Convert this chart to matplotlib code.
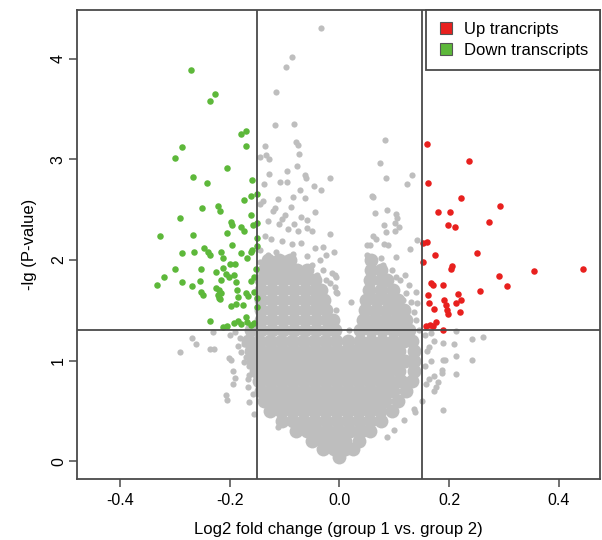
import matplotlib
matplotlib.use('Agg')
import matplotlib.pyplot as plt
from matplotlib.lines import Line2D

# 颜色
GREY = '#BEBEBE'
RED = '#E8201E'
GREEN = '#5DB83A'
LINE = '#4A4A4A'

# 上调 (红)
up_x = [0.159, 0.236, 0.162, 0.221, 0.293, 0.179, 0.201, 0.273, 0.197, 0.211,
        0.153, 0.159, 0.251, 0.174, 0.153, 0.205, 0.204, 0.355, 0.443, 0.290,
        0.305, 0.167, 0.171, 0.189, 0.256, 0.216, 0.162, 0.221, 0.212, 0.164,
        0.190, 0.194, 0.172, 0.196, 0.198, 0.219, 0.158, 0.165, 0.175, 0.171,
        0.188]
up_y = [3.15, 2.98, 2.76, 2.62, 2.54, 2.48, 2.48, 2.38, 2.35, 2.33,
        2.17, 2.18, 2.07, 2.05, 1.98, 1.94, 1.91, 1.89, 1.91, 1.84,
        1.74, 1.77, 1.75, 1.75, 1.69, 1.66, 1.65, 1.60, 1.57, 1.57,
        1.60, 1.55, 1.51, 1.50, 1.46, 1.48, 1.34, 1.35, 1.38, 1.34,
        1.30]

# 下调 (绿)
down_x = [-0.271, -0.227, -0.236, -0.179, -0.170, -0.170, -0.286, -0.300, -0.204, -0.266,
          -0.241, -0.160, -0.161, -0.151, -0.173, -0.250, -0.221, -0.218, -0.290, -0.162,
          -0.197, -0.195, -0.179, -0.174, -0.158, -0.150, -0.326, -0.266, -0.204, -0.151,
          -0.196, -0.151, -0.247, -0.240, -0.235, -0.287, -0.265, -0.215, -0.179, -0.162,
          -0.159, -0.212, -0.169, -0.299, -0.253, -0.213, -0.199, -0.191, -0.152, -0.319,
          -0.333, -0.287, -0.268, -0.254, -0.225, -0.216, -0.206, -0.201, -0.193, -0.189,
          -0.162, -0.155, -0.253, -0.249, -0.224, -0.219, -0.222, -0.215, -0.187, -0.184,
          -0.171, -0.167, -0.156, -0.151, -0.198, -0.189, -0.175, -0.151, -0.236, -0.212,
          -0.205, -0.193, -0.185, -0.179, -0.170, -0.168, -0.161, -0.155, -0.218, -0.220]
down_y = [3.89, 3.65, 3.58, 3.25, 3.28, 3.13, 3.12, 3.01, 2.91, 2.82,
          2.76, 2.79, 2.64, 2.66, 2.60, 2.52, 2.54, 2.49, 2.42, 2.45,
          2.38, 2.35, 2.33, 2.29, 2.35, 2.37, 2.24, 2.25, 2.27, 2.22,
          2.15, 2.14, 2.12, 2.08, 2.05, 2.07, 2.08, 2.08, 2.07, 2.08,
          2.10, 2.02, 2.02, 1.91, 1.91, 1.92, 1.96, 1.96, 1.91, 1.83,
          1.75, 1.78, 1.74, 1.79, 1.88, 1.80, 1.86, 1.83, 1.85, 1.78,
          1.79, 1.83, 1.68, 1.65, 1.72, 1.70, 1.65, 1.67, 1.70, 1.63,
          1.67, 1.64, 1.68, 1.62, 1.54, 1.56, 1.55, 1.53, 1.39, 1.33,
          1.34, 1.37, 1.39, 1.36, 1.43, 1.38, 1.35, 1.37, 1.61, 1.62]

# 非显著 (灰) - 稀疏点
grey_x = [-0.033, -0.086, -0.098, -0.115, -0.118, -0.082, 0.083, -0.136, -0.079, -0.075,
          -0.073, -0.145, -0.133, -0.128, -0.077, 0.073, -0.129, -0.096, -0.063, -0.061,
          -0.018, 0.085, 0.133, 0.123, -0.137, -0.109, -0.095, -0.047, -0.072, -0.033,
          -0.084, -0.062, 0.062, -0.145, -0.139, -0.112,
          -0.118, -0.121, -0.088, -0.044, -0.070, -0.060, -0.104, -0.100, -0.130, -0.110,
          -0.094, -0.082, -0.076, -0.060, -0.050, -0.018, -0.136, -0.124, -0.104, -0.087,
          -0.070, -0.045, -0.030, -0.010, -0.024, -0.036, -0.013, -0.006, -0.004, -0.009,
          -0.018, -0.145, -0.130, -0.115, -0.100, -0.085, -0.060, -0.145, -0.050, -0.030,
          -0.040, -0.025,
          0.064, 0.087, 0.103, 0.081, 0.102, 0.108, 0.062, 0.066, 0.084, 0.102,
          0.051, 0.056, 0.082, 0.089, 0.141, 0.129, 0.103, 0.103, 0.127, 0.121,
          0.139, 0.130, 0.142, 0.136, 0.121, 0.021, -0.009, -0.006, -0.006, 0.018,
          0.060, 0.105, 0.050, 0.055, 0.075, 0.080, 0.095, 0.110, 0.120, 0.115,
          0.140, 0.145, 0.020, 0.010,
          -0.268, -0.261, -0.291, -0.236, -0.229, -0.230, -0.201, -0.197, -0.194, -0.191,
          -0.194, -0.206, -0.204, -0.164, -0.155, -0.165, -0.167, -0.182, -0.173, -0.179,
          -0.170, -0.164, -0.173, -0.158, -0.161, -0.167, -0.158, -0.155, -0.112, -0.190,
          -0.200, -0.185,
          0.212, 0.242, 0.261, 0.209, 0.188, 0.173, 0.212, 0.242, 0.189, 0.193,
          0.187, 0.186, 0.212, 0.173, 0.179, 0.176, 0.173, 0.164, 0.158, 0.188,
          0.135, 0.138, 0.167, 0.164, 0.167, 0.118, 0.100, 0.087, 0.155, 0.160,
          0.155, 0.150]
grey_y = [4.30, 4.02, 3.92, 3.67, 3.34, 3.35, 3.19, 3.13, 3.17, 3.14,
          3.05, 3.02, 3.04, 3.00, 2.93, 2.96, 2.85, 2.88, 2.84, 2.81,
          2.81, 2.81, 2.84, 2.75, 2.75, 2.77, 2.77, 2.73, 2.69, 2.69,
          2.63, 2.62, 2.63, 2.56, 2.59, 2.61,
          2.52, 2.49, 2.53, 2.48, 2.43, 2.40, 2.41, 2.45, 2.39, 2.36,
          2.31, 2.36, 2.29, 2.32, 2.29, 2.26, 2.24, 2.21, 2.19, 2.16,
          2.17, 2.12, 2.13, 2.08, 2.05, 2.00, 1.87, 1.83, 1.67, 1.73,
          1.77, 2.10, 2.05, 2.08, 2.02, 2.06, 2.04, 1.98, 1.95, 1.90,
          1.85, 1.80,
          2.47, 2.50, 2.46, 2.35, 2.37, 2.33, 2.24, 2.21, 2.28, 2.29,
          2.15, 2.15, 2.16, 2.15, 2.20, 2.11, 2.03, 1.83, 1.75, 1.67,
          1.68, 1.58, 1.57, 1.48, 1.48, 1.58, 1.85, 1.68, 1.50, 1.30,
          2.64, 2.42, 2.05, 2.00, 2.02, 1.95, 1.90, 1.80, 1.85, 1.60,
          1.40, 1.30, 1.20, 1.10,
          1.23, 1.17, 1.09, 1.12, 1.12, 1.28, 1.03, 1.01, 0.90, 0.83,
          0.77, 0.66, 0.61, 0.59, 0.47, 0.86, 0.82, 1.23, 1.17, 1.09,
          1.04, 0.95, 0.99, 1.20, 1.07, 0.74, 0.67, 0.87, 0.34, 1.28,
          1.25, 1.15,
          1.29, 1.22, 1.24, 1.17, 1.18, 1.20, 1.05, 1.01, 1.01, 1.01,
          0.91, 0.88, 0.87, 0.85, 0.79, 0.74, 0.70, 0.82, 0.77, 0.51,
          0.52, 0.49, 1.27, 1.14, 1.00, 0.41, 0.31, 0.24, 1.25, 1.10,
          0.95, 0.60]

# 灰色密集区 (逐行读取: 行高 y, 该行各点 x)
core_rows_y = [0.04, 0.12, 0.2, 0.3, 0.4, 0.5, 0.6, 0.7, 0.8, 0.9,
               1.0, 1.1, 1.2, 1.3, 1.4, 1.5, 1.6, 1.7, 1.8, 1.9, 2.0]
core_rows_x = [
    [0.0],
    [-0.03, -0.01, 0.01, 0.025],
    [-0.05, -0.03, -0.01, 0.01, 0.035],
    [-0.08, -0.06, -0.04, -0.02, 0.0, 0.02, 0.04, 0.055],
    [-0.105, -0.085, -0.065, -0.045, -0.025, -0.005, 0.015, 0.035, 0.055, 0.075],
    [-0.127, -0.107, -0.087, -0.067, -0.047, -0.027, -0.007, 0.013, 0.033, 0.053, 0.073, 0.095],
    [-0.137, -0.117, -0.097, -0.077, -0.057, -0.037, -0.017, 0.003, 0.023, 0.043, 0.063, 0.083, 0.107],
    [-0.142, -0.122, -0.102, -0.082, -0.062, -0.042, -0.022, -0.002, 0.018, 0.038, 0.058, 0.078, 0.098, 0.122],
    [-0.147, -0.127, -0.107, -0.087, -0.067, -0.047, -0.027, -0.007, 0.013, 0.033, 0.053, 0.073, 0.093, 0.113, 0.132],
    [-0.152, -0.132, -0.112, -0.092, -0.072, -0.052, -0.032, -0.012, 0.008, 0.028, 0.048, 0.068, 0.088, 0.108, 0.135],
    [-0.157, -0.137, -0.117, -0.097, -0.077, -0.057, -0.037, -0.017, 0.003, 0.023, 0.043, 0.063, 0.083, 0.103, 0.12, 0.135],
    [-0.162, -0.142, -0.122, -0.102, -0.082, -0.062, -0.042, -0.022, -0.002, 0.013, 0.028, 0.048, 0.068, 0.088, 0.108, 0.135],
    [-0.167, -0.147, -0.127, -0.107, -0.087, -0.067, -0.047, -0.027, -0.007, 0.015, 0.038, 0.058, 0.078, 0.098, 0.118, 0.132],
    [-0.162, -0.142, -0.122, -0.102, -0.082, -0.062, -0.042, -0.022, -0.008, 0.037, 0.057, 0.077, 0.097, 0.113, 0.127],
    [-0.142, -0.122, -0.102, -0.082, -0.062, -0.042, -0.022, -0.012, 0.043, 0.063, 0.083, 0.103, 0.122],
    [-0.142, -0.122, -0.102, -0.082, -0.062, -0.042, -0.025, 0.046, 0.066, 0.086, 0.104, 0.117],
    [-0.142, -0.122, -0.102, -0.082, -0.062, -0.045, -0.028, 0.049, 0.069, 0.089, 0.107],
    [-0.142, -0.122, -0.102, -0.082, -0.062, -0.045, -0.033, 0.053, 0.075, 0.097],
    [-0.142, -0.122, -0.102, -0.082, -0.062, -0.045, 0.055, 0.075, 0.087],
    [-0.137, -0.117, -0.097, -0.077, -0.060, 0.058, 0.075],
    [-0.130, -0.110, -0.090, 0.058],
]

x_ticks = [-0.4, -0.2, 0.0, 0.2, 0.4]
y_ticks = [0, 1, 2, 3, 4]
fc_cut = 0.15
p_cut = 1.301  # -lg(0.05)

plt.rcParams['font.family'] = ['Liberation Sans', 'DejaVu Sans']

fig = plt.figure(figsize=(6.02, 5.4), dpi=100)
ax = fig.add_axes([0.128, 0.113, 0.869, 0.868])

core_x, core_y = [], []
for yy, xs in zip(core_rows_y, core_rows_x):
    core_x += xs
    core_y += [yy] * len(xs)

ax.scatter(core_x, core_y, s=100, c=GREY, linewidths=0, zorder=1)
ax.scatter(grey_x, grey_y, s=20, c=GREY, linewidths=0, zorder=1)
ax.scatter(down_x, down_y, s=22, c=GREEN, linewidths=0, zorder=2)
ax.scatter(up_x, up_y, s=22, c=RED, linewidths=0, zorder=2)

ax.axvline(-fc_cut, color=LINE, lw=1.3, zorder=3)
ax.axvline(fc_cut, color=LINE, lw=1.3, zorder=3)
ax.axhline(p_cut, color=LINE, lw=1.3, zorder=3)

ax.set_xlim(-0.478, 0.475)
ax.set_ylim(-0.175, 4.48)
ax.set_xticks(x_ticks)
ax.set_xticklabels(['-0.4', '-0.2', '0.0', '0.2', '0.4'], fontsize=11.5)
ax.set_yticks(y_ticks)
ax.set_yticklabels([str(v) for v in y_ticks], fontsize=11.5, rotation=90, va='center')
ax.tick_params(direction='out', length=6, width=1.1, color=LINE)
ax.tick_params(axis='y', pad=2)
ax.tick_params(axis='x', pad=4)
for sp in ax.spines.values():
    sp.set_color(LINE)
    sp.set_linewidth(1.3)

ax.set_xlabel('Log2 fold change (group 1 vs. group 2)', fontsize=12, labelpad=10)
ax.set_ylabel('-lg (P-value)', fontsize=12, labelpad=10)

handles = [
    Line2D([], [], marker='s', ls='', markersize=8, markerfacecolor=RED,
           markeredgecolor='#555555', markeredgewidth=0.8),
    Line2D([], [], marker='s', ls='', markersize=8, markerfacecolor=GREEN,
           markeredgecolor='#555555', markeredgewidth=0.8),
]
leg = ax.legend(handles, ['Up trancripts', 'Down transcripts'], loc='upper right',
                fontsize=12, frameon=True, fancybox=False, borderaxespad=0,
                handlelength=1.0, handletextpad=0.6, labelspacing=0.38,
                borderpad=0.7, framealpha=1)
leg.get_frame().set_edgecolor(LINE)
leg.get_frame().set_linewidth(1.3)

fig.savefig('out.png', dpi=100)
